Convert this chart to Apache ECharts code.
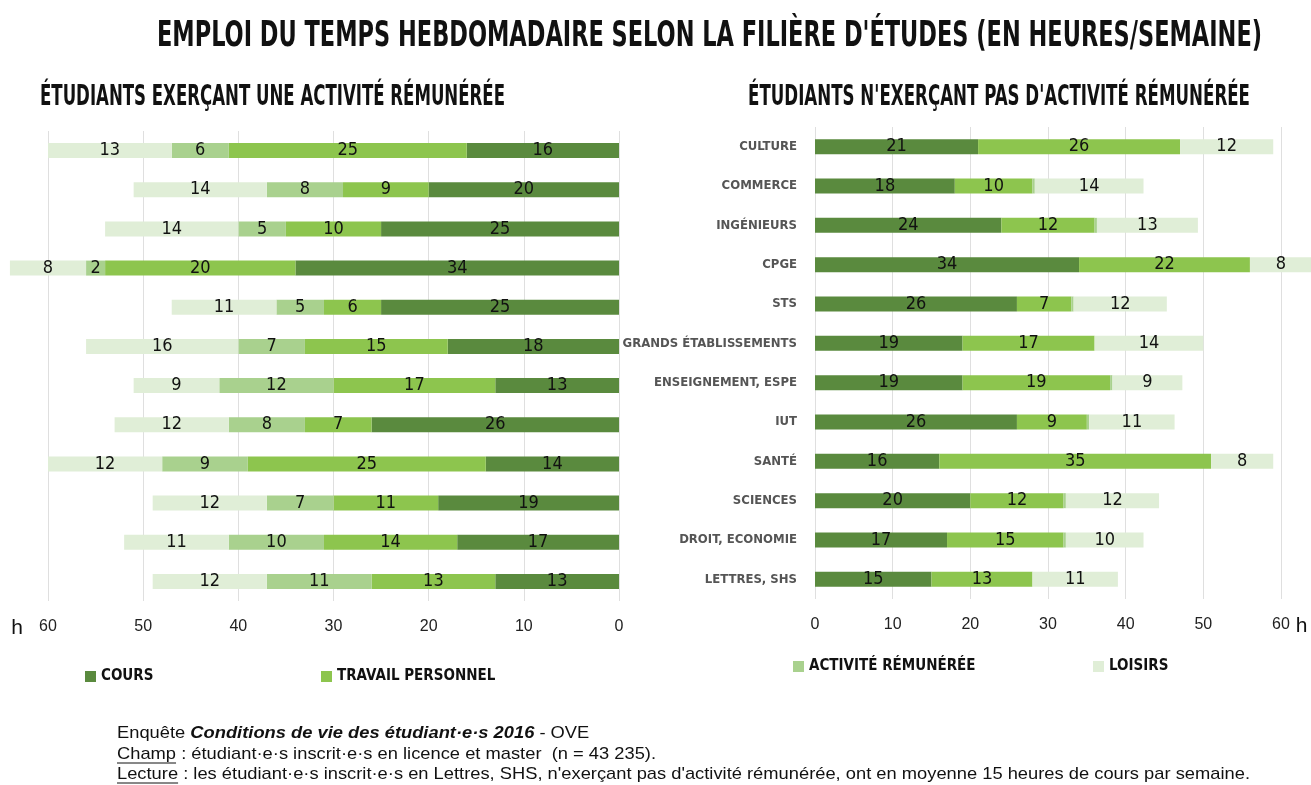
<!DOCTYPE html>
<html lang="fr">
<head>
<meta charset="UTF-8" />
<title>Emploi du temps hebdomadaire</title>
<script src="https://cdn.jsdelivr.net/npm/echarts@6/dist/echarts.min.js"></script>
<style>
  html, body { margin: 0; background: #fff; }
  #main { width: 1311px; height: 785px; }
</style>
</head>
<body>
<div id="main"></div>
<script>
// filières (same order in both panels)
const filieres = ['CULTURE', 'COMMERCE', 'INGÉNIEURS', 'CPGE', 'STS', 'GRANDS ÉTABLISSEMENTS',
  'ENSEIGNEMENT, ESPE', 'IUT', 'SANTÉ', 'SCIENCES', 'DROIT, ECONOMIE', 'LETTRES, SHS'];

// étudiants exerçant une activité rémunérée (heures/semaine)
const coursA    = [16, 20, 25, 34, 25, 18, 13, 26, 14, 19, 17, 13];
const travailA  = [25,  9, 10, 20,  6, 15, 17,  7, 25, 11, 14, 13];
const activiteA = [ 6,  8,  5,  2,  5,  7, 12,  8,  9,  7, 10, 11];
const loisirsA  = [13, 14, 14,  8, 11, 16,  9, 12, 12, 12, 11, 12];

// étudiants n'exerçant pas d'activité rémunérée
const coursB    = [21, 18, 24, 34, 26, 19, 19, 26, 16, 20, 17, 15];
const travailB  = [26, 10, 12, 22,  7, 17, 19,  9, 35, 12, 15, 13];
const activiteB = [ 0, 0.3, 0.3, 0, 0.3, 0, 0.3, 0.3, 0, 0.3, 0.3, 0];
const loisirsB  = [12, 14, 13,  8, 12, 14,  9, 11,  8, 12, 10, 11];

const xTicks = [0, 10, 20, 30, 40, 50, 60];

const colors = { cours: '#5a8a3e', travail: '#8dc54e', activite: '#a9d18e', loisirs: '#e0eed7' };
const NARROW = '"Liberation Sans Narrow", "DejaVu Sans Condensed", sans-serif';
const SANS = '"Liberation Sans", Arial, sans-serif';

// measure text so it can be squeezed/stretched to the reference width
const ctx = document.createElement('canvas').getContext('2d');
function textWidth(str, font) {
  ctx.font = font;
  return ctx.measureText(str).width;
}
function fitText(str, x, y, width, size) {
  const font = 'bold ' + size + 'px ' + NARROW;
  return {
    type: 'text', x: x, y: y, scaleX: width / textWidth(str, font),
    style: { text: str, fontSize: size, fontWeight: 'bold', fontFamily: NARROW, fill: '#111',
      textVerticalAlign: 'middle', verticalAlign: 'middle' }
  };
}

function bar(name, data, idx, color, withLabel) {
  return {
    name: name, type: 'bar', stack: 'g' + idx,
    xAxisIndex: idx, yAxisIndex: idx,
    data: data, barWidth: 15, clip: false,
    itemStyle: { color: color },
    label: {
      show: withLabel, position: 'inside', color: '#111',
      fontFamily: NARROW, fontSize: 18,
      formatter: p => (p.value >= 1 ? p.value : '')
    },
    emphasis: { disabled: true }
  };
}

function xAxis(idx, inverse, gap) {
  return {
    type: 'value', gridIndex: idx, inverse: inverse,
    min: xTicks[0], max: xTicks[xTicks.length - 1], interval: xTicks[1] - xTicks[0],
    name: 'h', nameLocation: 'end', nameGap: gap,
    nameTextStyle: { fontSize: 21, color: '#111', fontFamily: SANS, verticalAlign: 'top', padding: [17, 0, 0, 0] },
    axisLine: { show: false }, axisTick: { show: false },
    axisLabel: { margin: 18, fontSize: 16, color: '#222', fontFamily: SANS },
    splitLine: { show: true, lineStyle: { color: '#dfdfdf', width: 1 } }
  };
}

function legendItem(name, left, top) {
  return {
    data: [name], left: left, top: top, padding: 0,
    itemWidth: 11, itemHeight: 11, icon: 'rect', selectedMode: false,
    textStyle: { fontSize: 15, fontWeight: 'bold', color: '#111', fontFamily: NARROW }
  };
}

// footer text
const foot1a = 'Enquête ';
const foot1b = 'Conditions de vie des étudiant·e·s 2016';
const foot1c = ' - OVE';
const foot2a = 'Champ';
const foot2b = ' : étudiant·e·s inscrit·e·s en licence et master  (n = 43 235).';
const foot3a = 'Lecture';
const foot3b = " : les étudiant·e·s inscrit·e·s en Lettres, SHS, n'exerçant pas d'activité rémunérée, ont en moyenne 15 heures de cours par semaine.";
const footSize = 17;
const footFont = footSize + 'px ' + SANS;
const footScale = 1133 / textWidth(foot3a + foot3b, footFont);

function footLine(y, rich) {
  return {
    type: 'text', x: 117, y: y, scaleX: footScale,
    style: {
      text: rich, fontSize: footSize, fontFamily: SANS, fill: '#111',
      textVerticalAlign: 'middle', verticalAlign: 'middle',
      rich: {
        n: { fontSize: footSize, fontFamily: SANS, color: '#111' },
        b: { fontSize: footSize, fontFamily: SANS, color: '#111', fontWeight: 'bold', fontStyle: 'italic' }
      }
    }
  };
}
function underline(word, y) {
  const w = textWidth(word, footFont) * footScale;
  return { type: 'line', shape: { x1: 117, y1: y, x2: 117 + w, y2: y }, style: { stroke: '#111', lineWidth: 1 } };
}

const chart = echarts.init(document.getElementById('main'));

const option = {
  backgroundColor: '#fff',
  animation: false,
  grid: [
    { left: 48, right: 692, top: 131, height: 470, outerBoundsMode: 'none' },
    { left: 815, right: 30, top: 127, height: 472, outerBoundsMode: 'none' }
  ],
  xAxis: [xAxis(0, true, 25), xAxis(1, false, 13)],
  yAxis: [
    {
      type: 'category', gridIndex: 0, inverse: true, data: filieres,
      axisLine: { show: false }, axisTick: { show: false }, axisLabel: { show: false }
    },
    {
      type: 'category', gridIndex: 1, inverse: true, data: filieres,
      axisLine: { show: false }, axisTick: { show: false },
      axisLabel: { margin: 18, fontSize: 13, fontWeight: 'bold', color: '#555', fontFamily: NARROW }
    }
  ],
  legend: [
    legendItem('COURS', 85, 669),
    legendItem('TRAVAIL PERSONNEL', 321, 669),
    legendItem('ACTIVITÉ RÉMUNÉRÉE', 793, 659),
    legendItem('LOISIRS', 1093, 659)
  ],
  series: [
    bar('COURS', coursA, 0, colors.cours, true),
    bar('TRAVAIL PERSONNEL', travailA, 0, colors.travail, true),
    bar('ACTIVITÉ RÉMUNÉRÉE', activiteA, 0, colors.activite, true),
    bar('LOISIRS', loisirsA, 0, colors.loisirs, true),
    bar('COURS', coursB, 1, colors.cours, true),
    bar('TRAVAIL PERSONNEL', travailB, 1, colors.travail, true),
    bar('ACTIVITÉ RÉMUNÉRÉE', activiteB, 1, colors.activite, false),
    bar('LOISIRS', loisirsB, 1, colors.loisirs, true)
  ],
  graphic: [
    fitText("EMPLOI DU TEMPS HEBDOMADAIRE SELON LA FILIÈRE D'ÉTUDES (EN HEURES/SEMAINE)", 157, 37, 1105, 36),
    fitText('ÉTUDIANTS EXERÇANT UNE ACTIVITÉ RÉMUNÉRÉE', 40, 97, 465, 29),
    fitText("ÉTUDIANTS N'EXERÇANT PAS D'ACTIVITÉ RÉMUNÉRÉE", 748, 97, 502, 29),
    footLine(733, '{n|' + foot1a + '}{b|' + foot1b + '}{n|' + foot1c + '}'),
    footLine(754, '{n|' + foot2a + foot2b + '}'),
    footLine(774, '{n|' + foot3a + foot3b + '}'),
    underline(foot2a, 763),
    underline(foot3a, 783)
  ]
};

chart.setOption(option);
</script>
</body>
</html>
